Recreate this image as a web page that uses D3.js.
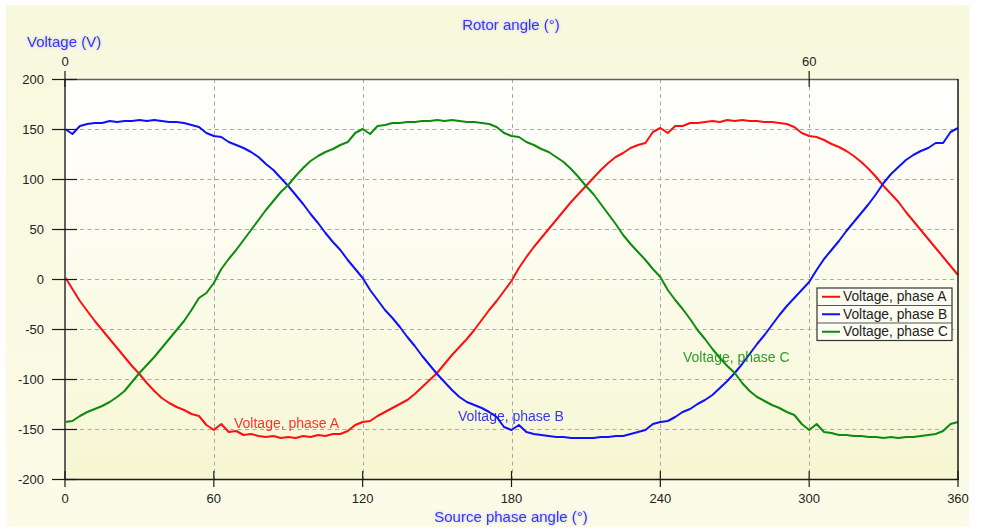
<!DOCTYPE html>
<html>
<head>
<meta charset="utf-8">
<script src="https://cdn.jsdelivr.net/npm/d3@7"></script>
<style>
  html, body { margin: 0; padding: 0; background: #ffffff; }
  svg { display: block; font-family: "Liberation Sans", Arial, sans-serif; }
</style>
</head>
<body>
<svg id="chart" width="982" height="531"></svg>
<script>
// Source phase angle samples (degrees)
const angles = [
  0, 3, 6, 9, 12, 15, 18, 21, 24, 27, 30, 33, 36, 39, 42, 45, 48, 51, 54, 57,
  60, 63, 66, 69, 72, 75, 78, 81, 84, 87, 90, 93, 96, 99, 102, 105, 108, 111, 114, 117,
  120, 123, 126, 129, 132, 135, 138, 141, 144, 147, 150, 153, 156, 159, 162, 165, 168, 171, 174, 177,
  180, 183, 186, 189, 192, 195, 198, 201, 204, 207, 210, 213, 216, 219, 222, 225, 228, 231, 234, 237,
  240, 243, 246, 249, 252, 255, 258, 261, 264, 267, 270, 273, 276, 279, 282, 285, 288, 291, 294, 297,
  300, 303, 306, 309, 312, 315, 318, 321, 324, 327, 330, 333, 336, 339, 342, 345, 348, 351, 354, 357,
  360
];

// Phase voltages (V) at each sample angle
const phaseA = [
  2, -10, -22, -32, -42, -51, -60, -69, -78, -87, -95, -104, -112, -119, -124, -128, -131, -135, -137, -146,
  -151, -145, -153, -152, -156, -155, -157, -158, -157, -159, -158, -159, -157, -158, -156, -157, -155, -155, -152, -146,
  -143, -142, -137, -133, -129, -125, -121, -115, -108, -101, -94, -85, -76, -68, -60, -51, -41, -31, -22, -12,
  -2, 11, 22, 32, 41, 50, 59, 68, 77, 85, 93, 101, 109, 116, 122, 126, 131, 134, 136, 147,
  151, 146, 153, 153, 156, 156, 157, 158, 157, 159, 158, 159, 158, 158, 157, 157, 156, 155, 152, 146,
  143, 142, 139, 135, 132, 128, 123, 117, 110, 102, 93, 85, 77, 67, 58, 49, 40, 31, 22, 13,
  4
];
const phaseB = [
  150, 145, 153, 155, 156, 156, 158, 157, 158, 158, 159, 158, 159, 158, 157, 157, 156, 154, 152, 146,
  143, 142, 137, 134, 131, 127, 122, 115, 109, 101, 93, 84, 75, 65, 56, 46, 37, 29, 19, 10,
  1, -11, -21, -31, -39, -48, -58, -67, -77, -86, -95, -103, -111, -118, -123, -126, -129, -133, -138, -148,
  -151, -146, -153, -155, -156, -157, -158, -158, -159, -159, -159, -159, -158, -158, -157, -157, -155, -153, -151, -145,
  -143, -142, -138, -133, -130, -125, -121, -116, -109, -102, -94, -85, -75, -65, -56, -46, -36, -27, -19, -11,
  -3, 9, 20, 29, 38, 48, 57, 66, 75, 85, 96, 105, 112, 119, 124, 128, 131, 136, 136, 147,
  151
];
const phaseC = [
  -143, -142, -137, -133, -130, -127, -123, -118, -112, -103, -94, -86, -78, -69, -60, -51, -42, -31, -19, -14,
  -4, 10, 20, 29, 39, 49, 59, 69, 78, 87, 94, 103, 111, 118, 123, 127, 130, 134, 137, 146,
  150, 145, 153, 154, 156, 156, 157, 157, 158, 158, 159, 158, 159, 158, 157, 157, 156, 155, 152, 146,
  143, 142, 137, 134, 130, 127, 122, 117, 110, 102, 93, 85, 75, 65, 55, 44, 35, 27, 19, 10,
  2, -11, -21, -30, -40, -51, -60, -70, -79, -87, -94, -104, -112, -118, -122, -126, -129, -133, -136, -145,
  -151, -145, -153, -154, -156, -156, -157, -157, -158, -158, -159, -158, -159, -158, -158, -157, -156, -155, -152, -145,
  -143
];

const seriesNames = ["Voltage, phase A", "Voltage, phase B", "Voltage, phase C"];
const seriesColors = ["#ff1010", "#1010ff", "#0e8a0e"];

const xTicks = [0, 60, 120, 180, 240, 300, 360];
const yTicks = [200, 150, 100, 50, 0, -50, -100, -150, -200];
const rotorTicks = [0, 60];

const svg = d3.select("#chart");
const plot = { left: 65, right: 958, top: 79, bottom: 479 };

const x = d3.scaleLinear().domain([0, 360]).range([plot.left, plot.right]);
const xRotor = d3.scaleLinear().domain([0, 72]).range([plot.left, plot.right]);
const y = d3.scaleLinear().domain([-200, 200]).range([plot.bottom, plot.top]);

const defs = svg.append("defs");
const outerGrad = defs.append("linearGradient").attr("id", "outerGrad")
  .attr("x1", 0).attr("y1", 0).attr("x2", 0).attr("y2", 1);
outerGrad.append("stop").attr("offset", "0%").attr("stop-color", "#f8f8dd");
outerGrad.append("stop").attr("offset", "100%").attr("stop-color", "#fbfbe8");

const plotGrad = defs.append("linearGradient").attr("id", "plotGrad")
  .attr("x1", 0).attr("y1", 0).attr("x2", 0).attr("y2", 1);
plotGrad.append("stop").attr("offset", "0%").attr("stop-color", "#fffffd");
plotGrad.append("stop").attr("offset", "45%").attr("stop-color", "#fcfcee");
plotGrad.append("stop").attr("offset", "100%").attr("stop-color", "#f6f6d2");

const glow = defs.append("filter").attr("id", "glow")
  .attr("x", "-10%").attr("y", "-40%").attr("width", "120%").attr("height", "180%");
glow.append("feGaussianBlur").attr("in", "SourceAlpha").attr("stdDeviation", 1.6).attr("result", "blur");
glow.append("feFlood").attr("flood-color", "#6a6aff").attr("flood-opacity", 0.45).attr("result", "col");
glow.append("feComposite").attr("in", "col").attr("in2", "blur").attr("operator", "in").attr("result", "halo");
const merge = glow.append("feMerge");
merge.append("feMergeNode").attr("in", "halo");
merge.append("feMergeNode").attr("in", "SourceGraphic");

// panel and plot backgrounds
svg.append("rect").attr("x", 6).attr("y", 5).attr("width", 963).attr("height", 522)
  .attr("fill", "url(#outerGrad)");
svg.append("rect").attr("x", plot.left).attr("y", plot.top)
  .attr("width", plot.right - plot.left).attr("height", plot.bottom - plot.top)
  .attr("fill", "url(#plotGrad)");

// grid
const grid = svg.append("g").attr("stroke", "#a8a8a8").attr("stroke-width", 1)
  .attr("stroke-dasharray", "4,3.5");
grid.selectAll("line.gx").data(xTicks.filter(d => d > 0 && d < 360)).enter().append("line")
  .attr("x1", d => Math.round(x(d)) + 0.5).attr("x2", d => Math.round(x(d)) + 0.5)
  .attr("y1", plot.top).attr("y2", plot.bottom);
grid.selectAll("line.gy").data(yTicks.filter(d => d > -200 && d < 200)).enter().append("line")
  .attr("y1", d => Math.round(y(d)) + 0.5).attr("y2", d => Math.round(y(d)) + 0.5)
  .attr("x1", plot.left).attr("x2", plot.right);

// series
const tables = [phaseA, phaseB, phaseC];
const line = d3.line().x(d => x(d[0])).y(d => y(d[1]));
tables.forEach((vals, i) => {
  svg.append("path")
    .datum(angles.map((a, k) => [a, vals[k]]))
    .attr("fill", "none")
    .attr("stroke", seriesColors[i])
    .attr("stroke-width", 2)
    .attr("stroke-linejoin", "round")
    .attr("d", line);
});

// frame
svg.append("line").attr("x1", plot.left).attr("x2", plot.right).attr("y1", plot.top + 0.5).attr("y2", plot.top + 0.5)
  .attr("stroke", "#606060").attr("stroke-width", 1.5);
svg.append("line").attr("x1", plot.left).attr("x2", plot.right + 1).attr("y1", plot.bottom + 0.5).attr("y2", plot.bottom + 0.5)
  .attr("stroke", "#1a1a1a").attr("stroke-width", 1.5);
svg.append("line").attr("x1", plot.left).attr("x2", plot.left).attr("y1", plot.top).attr("y2", plot.bottom + 1)
  .attr("stroke", "#606060").attr("stroke-width", 2);
svg.append("line").attr("x1", plot.right).attr("x2", plot.right).attr("y1", plot.top).attr("y2", plot.bottom + 1)
  .attr("stroke", "#1a1a1a").attr("stroke-width", 1.5);

// tick marks crossing the axes
const ticks = svg.append("g").attr("stroke", "#1a1a1a").attr("stroke-width", 1.2);
ticks.selectAll("line.tb").data(xTicks).enter().append("line")
  .attr("x1", d => x(d)).attr("x2", d => x(d)).attr("y1", plot.bottom - 8).attr("y2", plot.bottom + 8);
ticks.selectAll("line.tt").data(rotorTicks).enter().append("line")
  .attr("x1", d => xRotor(d)).attr("x2", d => xRotor(d)).attr("y1", plot.top - 8).attr("y2", plot.top + 8);
ticks.selectAll("line.tl").data(yTicks).enter().append("line")
  .attr("x1", plot.left - 13).attr("x2", plot.left + 12).attr("y1", d => y(d) + 0.5).attr("y2", d => y(d) + 0.5);

// tick labels
const tickFont = 13;
svg.append("g").selectAll("text").data(xTicks).enter().append("text")
  .attr("x", d => x(d)).attr("y", 503).attr("text-anchor", "middle")
  .attr("font-size", tickFont).attr("fill", "#222").text(d => d);
svg.append("g").selectAll("text").data(rotorTicks).enter().append("text")
  .attr("x", d => xRotor(d)).attr("y", 66).attr("text-anchor", "middle")
  .attr("font-size", tickFont).attr("fill", "#222").text(d => d);
svg.append("g").selectAll("text").data(yTicks).enter().append("text")
  .attr("x", 44).attr("y", d => y(d) + 4.5).attr("text-anchor", "end")
  .attr("font-size", tickFont).attr("fill", "#222").text(d => d);

// axis titles
const titleColor = "#3434ff";
const titleFont = 15;
svg.append("text").attr("x", 27).attr("y", 47).attr("font-size", titleFont).attr("fill", titleColor)
  .attr("filter", "url(#glow)").text("Voltage (V)");
svg.append("text").attr("x", 511).attr("y", 30).attr("text-anchor", "middle").attr("font-size", titleFont)
  .attr("fill", titleColor).attr("filter", "url(#glow)").text("Rotor angle (°)");
svg.append("text").attr("x", 511).attr("y", 522).attr("text-anchor", "middle").attr("font-size", titleFont)
  .attr("fill", titleColor).attr("filter", "url(#glow)").text("Source phase angle (°)");

// inline series labels
const inline = [
  { i: 0, x: 234, y: 428 },
  { i: 1, x: 458, y: 421 },
  { i: 2, x: 683, y: 362 }
];
svg.append("g").selectAll("text").data(inline).enter().append("text")
  .attr("x", d => d.x).attr("y", d => d.y).attr("font-size", 14)
  .attr("fill", d => seriesColors[d.i]).attr("opacity", 0.85)
  .text(d => seriesNames[d.i]);

// legend
const lg = svg.append("g").attr("transform", "translate(817,288)");
const rowH = 17.5;
lg.append("rect").attr("width", 135).attr("height", rowH * 3).attr("fill", "#fdfdf2")
  .attr("stroke", "#333").attr("stroke-width", 1.2);
[1, 2].forEach(r => lg.append("line").attr("x1", 0).attr("x2", 135)
  .attr("y1", r * rowH).attr("y2", r * rowH).attr("stroke", "#555").attr("stroke-width", 1));
seriesNames.forEach((name, i) => {
  const cy = i * rowH + rowH / 2;
  lg.append("line").attr("x1", 5).attr("x2", 23).attr("y1", cy).attr("y2", cy)
    .attr("stroke", seriesColors[i]).attr("stroke-width", 2);
  lg.append("text").attr("x", 26).attr("y", cy + 4.5).attr("font-size", 13.8)
    .attr("fill", "#222").text(name);
});
</script>
</body>
</html>
